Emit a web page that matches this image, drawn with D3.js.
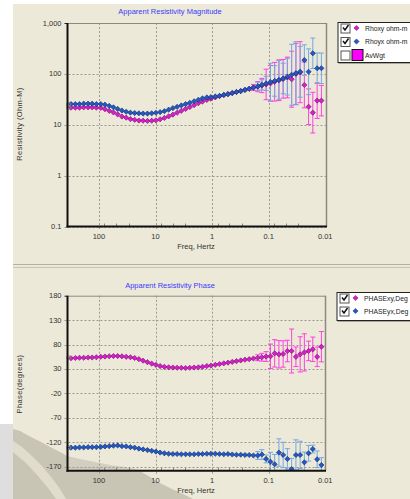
<!DOCTYPE html>
<html><head><meta charset="utf-8">
<script src="https://cdn.jsdelivr.net/npm/d3@7"></script>
<style>
html,body{margin:0;padding:0;background:#fff;}
svg{display:block;font-family:"Liberation Sans",Arial,sans-serif;}
</style>
</head><body>
<svg id="c" width="410" height="499"></svg>
<script>
// Sounding frequencies (Hz); the first one is a masked sample drawn hollow
const freqs = [345, 312, 262, 221, 186, 156, 132, 111, 93.1, 78.4, 65.9, 55.5, 46.7, 39.3, 33.0, 27.8, 23.4, 19.7, 16.6, 13.9, 11.7,
  9.86, 8.30, 6.98, 5.87, 4.94, 4.16, 3.50, 2.94, 2.48, 2.08, 1.75, 1.48, 1.24, 1.05, 0.879, 0.740, 0.622, 0.524, 0.441, 0.371,
  0.312, 0.262, 0.221, 0.186, 0.156, 0.132, 0.111, 0.0931, 0.0784, 0.0659, 0.0555, 0.0467, 0.0393, 0.0330, 0.0278, 0.0234,
  0.0197, 0.0166, 0.0139, 0.0117];

// Apparent resistivity (ohm-m)
const rhoxy = [22, 21.7, 21.7, 21.7, 22, 22, 22, 21.7, 21.5, 20.2, 18.8, 17.5, 16, 14.5, 13.8, 12.9, 12.5, 12.1, 12.0, 11.9, 12.0,
  12.2, 12.8, 13.6, 14.6, 15.8, 17.2, 18.8, 20.5, 22.3, 24.3, 26.5, 28.5, 30.7, 32.5, 34.5, 36.5, 38.5, 40, 42, 44,
  46, 48.5, 51, 54, 56, 59, 62, 65, 70, 75, 80, 85, 78.5, 100, 108, 60.5, 22.6, 17.3, 29.8, 29.8];
const rhoyx = [25, 25.5, 25.5, 25.5, 26, 26, 26, 25.5, 25.5, 24.8, 23.5, 22, 20.5, 19, 18, 17.3, 17, 16.8, 16.6, 16.6, 16.8,
  17.2, 17.7, 18.5, 19.8, 21.2, 22.5, 24, 25.5, 27, 29, 31, 33, 34.5, 35, 36, 37, 38.5, 40, 42, 44,
  46, 48.5, 51, 54, 57, 61, 65, 69, 72.6, 76, 81, 88, 96, 103, 110, 187, 110, 254, 129, 129];
// Error half-widths in decades of resistivity
const rhoxyErr = [0, 0, 0, 0, 0, 0, 0, 0, 0, 0, 0, 0, 0, 0, 0, 0, 0, 0, 0, 0, 0,
  0, 0, 0, 0, 0, 0, 0, 0, 0, 0, 0, 0, 0, 0, 0, 0, 0, 0, 0, 0,
  0, 0, 0, 0.06, 0.1, 0.14, 0.3, 0.35, 0.38, 0.4, 0.38, 0.4, 0.55, 0.6, 0.6, 0.45, 0.35, 0.4, 0.35, 0.3];
const rhoyxErr = [0, 0, 0, 0, 0, 0, 0, 0, 0, 0, 0, 0, 0, 0, 0, 0, 0, 0, 0, 0, 0,
  0, 0, 0, 0, 0, 0, 0, 0, 0, 0, 0, 0, 0, 0, 0, 0, 0, 0, 0, 0,
  0, 0, 0, 0, 0.08, 0.1, 0.14, 0.37, 0.3, 0.38, 0.3, 0.36, 0.6, 0.62, 0.5, 0.3, 0.45, 0.3, 0.3, 0.3];

// Impedance phase (degrees)
const phaseXY = [53, 52, 52.5, 53, 53, 53.5, 53.5, 54, 55, 55.5, 56, 56.5, 56.5, 56, 55, 54, 52.5, 50, 47, 44, 41,
  38.5, 36, 34.5, 33.5, 33, 32.5, 32.5, 32, 32.5, 33, 33.5, 34.5, 36, 37, 38.5, 40, 41.5, 43, 44.5, 46,
  47.5, 49, 50, 51.5, 53, 54, 55.5, 56, 62, 60, 60.7, 66.8, 66.8, 55, 60, 64, 67, 70.3, 55, 75.6];
const phaseYX = [-131, -131, -131, -130.5, -130.5, -130, -130, -130, -129.5, -128.5, -128, -127, -126.5, -128, -128.5, -130, -131, -133, -134.5, -136, -137.5,
  -139, -141, -142.5, -143.5, -144, -144, -144.5, -144.5, -144.5, -144.5, -144, -144, -143.5, -143.5, -143.5, -144, -144.5, -144, -145, -145.5,
  -145.5, -146, -146, -147, -147, -145, -154, -159.7, -165, -141, -146, -154, -175, -146, -146, -161, -142.5, -133.8, -154.8, -166.5];
const phaseXYErr = [0, 0, 0, 0, 0, 0, 0, 0, 0, 0, 0, 0, 0, 0, 0, 0, 0, 0, 0, 0, 0,
  0, 0, 0, 0, 0, 0, 0, 0, 0, 0, 0, 0, 0, 0, 0, 0, 0, 0, 0, 0,
  0, 0, 0, 0, 6, 8, 10, 25, 28, 28, 27, 22, 45, 20, 36, 38, 20, 25, 20, 31];
const phaseYXErr = [0, 0, 0, 0, 0, 0, 0, 0, 0, 0, 0, 0, 0, 0, 0, 0, 0, 0, 0, 0, 0,
  0, 0, 0, 0, 0, 0, 0, 0, 0, 0, 0, 0, 0, 0, 0, 0, 0, 0, 0, 0,
  0, 0, 0, 0, 8, 10, 8, 19, 20, 28, 26, 21, 22, 31, 28, 21, 16, 8, 17, 15];

// Axis ticks
const freqTicks = [100, 10, 1, 0.1, 0.01];
const freqTickLabels = ["100", "10", "1", "0.1", "0.01"];
const freqMinor = [80, 50, 30, 8, 5, 3, 0.8, 0.5, 0.3, 0.08, 0.05, 0.03];
const rhoTicks = [1000, 100, 10, 1, 0.1];
const rhoTickLabels = ["1,000", "100", "10", "1", "0.1"];
const phaseTicks = [180, 130, 80, 30, -20, -70, -120, -170];

const rhoLegend = ["Rhoxy ohm-m", "Rhoyx ohm-m", "AvWgt"];
const phaseLegend = ["PHASExy,Deg", "PHASEyx,Deg"];

const C = {
  bg: "#ECE9D8", magenta: "#d91ccd", magentaEdge: "#6e0e66", blue: "#2459c4", blueEdge: "#0d2c6e",
  magentaBar: "#ff3fe0", blueBar: "#74a8e2", grid: "#9c9a90", title: "#3a3aff", text: "#333"
};

const svg = d3.select("#c");
svg.append("rect").attr("width", 410).attr("height", 499).attr("fill", "#fff");
svg.append("rect").attr("x", 13).attr("y", 4).attr("width", 397).attr("height", 495).attr("fill", C.bg);

// grey window shadow across the lower-left corner (sits behind the plots)
const shade = svg.append("g");
shade.append("path")
  .attr("d", "M0,424 L13,424 L13,499 L0,499 Z").attr("fill", "#dedede");
shade.append("path")
  .attr("d", "M13,429 L20,431 L27,435 L35,439 L43,443 L52,448 L60,452 L67,456 L67,499 L13,499 Z")
  .attr("fill", "#c9c5b5");
shade.append("path")
  .attr("d", "M67,456 L80,459 L95,462 L110,465 L125,467 L140,470 L140,499 L67,499 Z")
  .attr("fill", "#d3cfc0");
shade.append("path")
  .attr("d", "M67,471 L140,471 L150,477 L160,483 L172,489 L185,495 L193,499 L67,499 Z")
  .attr("fill", "#c9c5b5");
shade.append("path")
  .attr("d", "M13,441 L22,447 L32,456 L42,466 L52,478 L60,489 L66,499 L56,499 L48,488 L38,476 L27,464 L13,452 Z")
  .attr("fill", "#e1ddce");

// panel separator
svg.append("line").attr("x1", 13).attr("x2", 410).attr("y1", 264.5).attr("y2", 264.5).attr("stroke", "#b4b1a2");
svg.append("line").attr("x1", 13).attr("x2", 410).attr("y1", 267.5).attr("y2", 267.5).attr("stroke", "#c8c5b6");

const x = d3.scaleLog().domain([360, 0.0097]).range([67.5, 326]);

const pts = freqs.map((f, i) => ({f, i}));
const marker = "M0,-2.6L2.6,0L0,2.6L-2.6,0Z";

function panel(opt) {
  const g = svg.append("g");
  const {y, top, bottom, left, right} = opt;
  const clipId = opt.id + "-clip";
  svg.append("clipPath").attr("id", clipId).append("rect")
    .attr("x", left).attr("y", top - 2).attr("width", right - left).attr("height", bottom - top + 2);

  // grid
  g.selectAll(".gx").data(freqTicks.slice(0, 4)).join("line")
    .attr("x1", d => Math.round(x(d)) + 0.5).attr("x2", d => Math.round(x(d)) + 0.5)
    .attr("y1", top).attr("y2", bottom + 3)
    .attr("stroke", C.grid).attr("stroke-dasharray", "2,2");
  g.selectAll(".gy").data(opt.ticks.slice(1)).join("line")
    .attr("x1", left - 3).attr("x2", right)
    .attr("y1", d => Math.round(y(d)) + 0.5).attr("y2", d => Math.round(y(d)) + 0.5)
    .attr("stroke", C.grid).attr("stroke-dasharray", "2,2");
  // minor freq ticks on the axis
  g.selectAll(".mx").data(freqMinor).join("line")
    .attr("x1", d => Math.round(x(d)) + 0.5).attr("x2", d => Math.round(x(d)) + 0.5)
    .attr("y1", bottom - 3).attr("y2", bottom)
    .attr("stroke", "#8a887e");

  // frame: grey top/right, heavy black left/bottom
  g.append("line").attr("x1", left).attr("x2", right).attr("y1", top + 0.5).attr("y2", top + 0.5).attr("stroke", "#8c8a80");
  g.append("line").attr("x1", right + 0.5).attr("x2", right + 0.5).attr("y1", top).attr("y2", bottom).attr("stroke", "#8c8a80").attr("stroke-width", 1.5);
  g.append("line").attr("x1", left - 3).attr("x2", left).attr("y1", top + 0.5).attr("y2", top + 0.5).attr("stroke", "#222");

  // y tick labels
  g.selectAll(".ty").data(opt.ticks).join("text")
    .attr("x", left - 6).attr("y", d => y(d) + 2.5)
    .attr("text-anchor", "end").attr("font-size", 7.5).attr("fill", C.text)
    .text((d, i) => opt.tickLabels[i]);
  // x tick labels
  g.selectAll(".tx").data(freqTicks).join("text")
    .attr("x", d => x(d)).attr("y", bottom + 12)
    .attr("text-anchor", "middle").attr("font-size", 7.5).attr("fill", C.text)
    .text((d, i) => freqTickLabels[i]);

  g.append("text").attr("x", 196).attr("y", bottom + 22).attr("text-anchor", "middle")
    .attr("font-size", 7.5).attr("fill", C.text).text("Freq, Hertz");
  g.append("text").attr("transform", `translate(${opt.yTitleX},${opt.yTitleY}) rotate(-90)`)
    .attr("text-anchor", "middle").attr("font-size", 7.5).attr("letter-spacing", 0.4).attr("fill", C.text)
    .text(opt.yTitle);
  g.append("text").attr("x", 170).attr("y", opt.titleY).attr("text-anchor", "middle")
    .attr("font-size", 7.5).attr("fill", C.title).text(opt.title);

  const plot = g.append("g").attr("clip-path", `url(#${clipId})`);

  // error bars
  opt.series.forEach(s => {
    const withErr = pts.filter(p => s.err[p.i] > 0);
    const eb = plot.append("g").attr("stroke", s.bar).attr("stroke-width", 1);
    eb.selectAll("line.v").data(withErr).join("line")
      .attr("x1", p => x(p.f)).attr("x2", p => x(p.f))
      .attr("y1", p => y(s.lo(p.i))).attr("y2", p => y(s.hi(p.i)));
    eb.selectAll("line.a").data(withErr).join("line")
      .attr("x1", p => x(p.f) - 2.5).attr("x2", p => x(p.f) + 2.5)
      .attr("y1", p => y(s.lo(p.i))).attr("y2", p => y(s.lo(p.i)));
    eb.selectAll("line.b").data(withErr).join("line")
      .attr("x1", p => x(p.f) - 2.5).attr("x2", p => x(p.f) + 2.5)
      .attr("y1", p => y(s.hi(p.i))).attr("y2", p => y(s.hi(p.i)));
  });

  // points
  opt.series.forEach(s => {
    plot.append("g").selectAll("path").data(pts.slice(1)).join("path")
      .attr("d", marker)
      .attr("transform", p => `translate(${x(p.f)},${y(s.values[p.i])})`)
      .attr("fill", s.fill).attr("stroke", s.edge).attr("stroke-width", 0.6);
    // masked first sample
    g.append("circle").attr("cx", x(pts[0].f)).attr("cy", y(s.values[0])).attr("r", 2)
      .attr("fill", "none").attr("stroke", "#8c8a80").attr("stroke-width", 0.8);
  });

  // heavy axes
  g.append("line").attr("x1", left).attr("x2", left).attr("y1", top).attr("y2", bottom + 1)
    .attr("stroke", "#111").attr("stroke-width", 2);
  g.append("line").attr("x1", left - 1).attr("x2", right + 1).attr("y1", bottom).attr("y2", bottom)
    .attr("stroke", "#111").attr("stroke-width", 2);

  // legend
  const L = opt.legend;
  const lg = svg.append("g");
  lg.append("rect").attr("x", L.x + 1).attr("y", L.y + 1).attr("width", 90).attr("height", L.h)
    .attr("fill", "#a9a697");
  lg.append("rect").attr("x", L.x + 0.5).attr("y", L.y + 0.5).attr("width", 90).attr("height", L.h - 1)
    .attr("fill", "#fff").attr("stroke", "#222");
  L.items.forEach((it, k) => {
    const cy = L.y + 6 + k * L.step;
    lg.append("rect").attr("x", L.x + 3.5).attr("y", cy - 4.5 + 0.5).attr("width", 9).attr("height", 9)
      .attr("fill", "#fff").attr("stroke", "#555");
    if (it.checked) {
      lg.append("path").attr("d", `M${L.x + 5.5},${cy - 0.5} L${L.x + 7.5},${cy + 2} L${L.x + 11},${cy - 3}`)
        .attr("fill", "none").attr("stroke", "#111").attr("stroke-width", 1.5);
    }
    if (it.swatch) {
      lg.append("rect").attr("x", L.x + 14.5).attr("y", cy - 5.5).attr("width", 11).attr("height", 11)
        .attr("fill", "#ff00ff").attr("stroke", "#111");
    } else {
      lg.append("path").attr("d", marker)
        .attr("transform", `translate(${L.x + 19},${cy})`)
        .attr("fill", it.fill).attr("stroke", it.edge).attr("stroke-width", 0.5);
    }
    lg.append("text").attr("x", L.x + 27.5).attr("y", cy + 2.5).attr("font-size", 6.8).attr("fill", "#222").text(it.label);
  });
}

const yRho = d3.scaleLog().domain([0.1, 1000]).range([226.5, 23]);
const yPh = d3.scaleLinear().domain([-180, 180]).range([471.6, 295.7]);

panel({
  id: "rho", y: yRho, top: 23, bottom: 226.5, left: 67.5, right: 326,
  ticks: rhoTicks, tickLabels: rhoTickLabels,
  yTitle: "Resistivity (Ohm-M)", yTitleX: 22, yTitleY: 124,
  title: "Apparent Resistivity Magnitude", titleY: 14,
  series: [
    {values: rhoxy, err: rhoxyErr, fill: C.magenta, edge: C.magentaEdge, bar: C.magentaBar,
     lo: i => rhoxy[i] / Math.pow(10, rhoxyErr[i]), hi: i => rhoxy[i] * Math.pow(10, rhoxyErr[i])},
    {values: rhoyx, err: rhoyxErr, fill: C.blue, edge: C.blueEdge, bar: C.blueBar,
     lo: i => rhoyx[i] / Math.pow(10, rhoyxErr[i]), hi: i => rhoyx[i] * Math.pow(10, rhoyxErr[i])}
  ],
  legend: {x: 337.5, y: 22, h: 41, step: 13.5, items: [
    {label: rhoLegend[0], checked: true, fill: C.magenta, edge: C.magentaEdge},
    {label: rhoLegend[1], checked: true, fill: C.blue, edge: C.blueEdge},
    {label: rhoLegend[2], checked: false, swatch: true}
  ]}
});

panel({
  id: "ph", y: yPh, top: 295.7, bottom: 470.7, left: 67.5, right: 325,
  ticks: phaseTicks, tickLabels: phaseTicks.map(String),
  yTitle: "Phase(degrees)", yTitleX: 22, yTitleY: 384,
  title: "Apparent Resistivity Phase", titleY: 288,
  series: [
    {values: phaseXY, err: phaseXYErr, fill: C.magenta, edge: C.magentaEdge, bar: C.magentaBar,
     lo: i => phaseXY[i] - phaseXYErr[i], hi: i => phaseXY[i] + phaseXYErr[i]},
    {values: phaseYX, err: phaseYXErr, fill: C.blue, edge: C.blueEdge, bar: C.blueBar,
     lo: i => phaseYX[i] - phaseYXErr[i], hi: i => phaseYX[i] + phaseYXErr[i]}
  ],
  legend: {x: 336.5, y: 292, h: 29, step: 13, items: [
    {label: phaseLegend[0], checked: true, fill: C.magenta, edge: C.magentaEdge},
    {label: phaseLegend[1], checked: true, fill: C.blue, edge: C.blueEdge}
  ]}
});
</script>
</body></html>
